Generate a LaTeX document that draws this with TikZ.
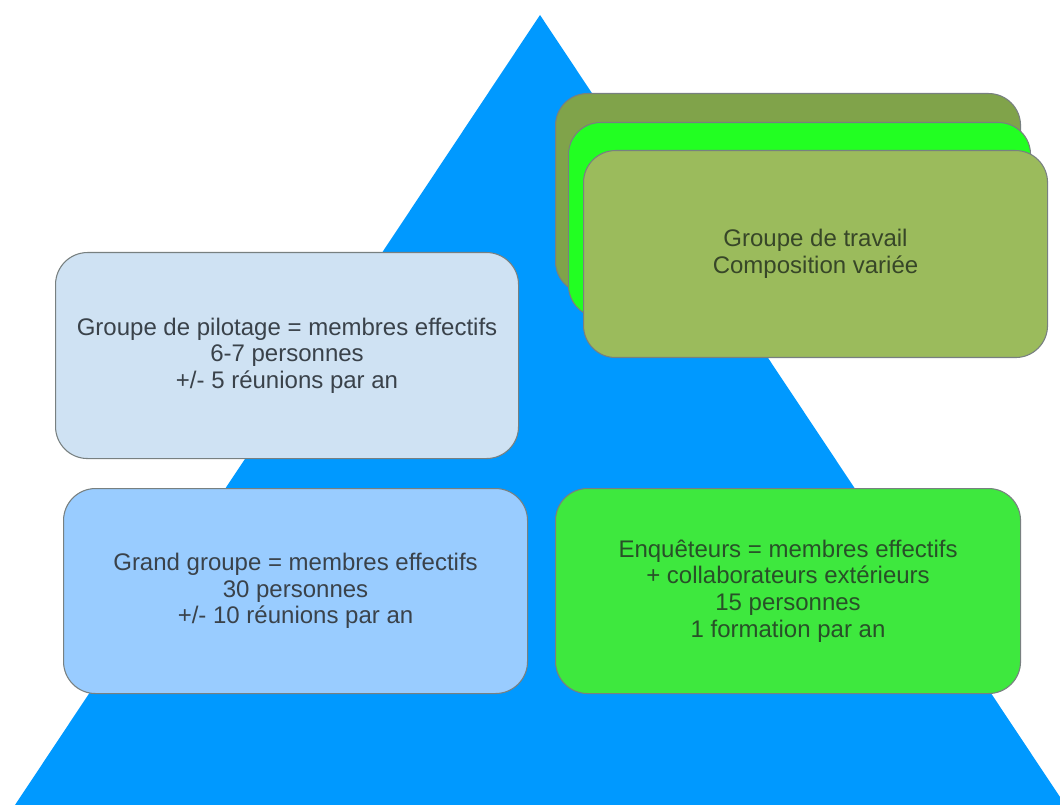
\documentclass[tikz,border=0pt]{standalone}
\usepackage{fontspec}
\setmainfont{Liberation Sans}
\definecolor{tri}{RGB}{0,153,255}
\definecolor{pilotfill}{RGB}{207,226,243}
\definecolor{grandfill}{RGB}{153,204,255}
\definecolor{enqfill}{RGB}{62,232,62}
\definecolor{travfront}{RGB}{155,187,92}
\definecolor{travmid}{RGB}{34,255,34}
\definecolor{travback}{RGB}{128,163,74}
\definecolor{boxline}{RGB}{120,128,128}
\definecolor{bluetext}{RGB}{58,66,74}
\definecolor{greentext}{RGB}{40,80,40}
\definecolor{olivetext}{RGB}{55,70,40}
\begin{document}
\begin{tikzpicture}[x=0.75pt,y=-0.75pt,
  box/.style={draw=boxline, line width=0.8pt, rounded corners=24pt, align=center,
    anchor=north west, inner sep=0pt,
    font=\fontsize{18}{20}\selectfont}]
\useasboundingbox (0,0) rectangle (1060,805);
\fill[white] (0,0) rectangle (1060,805);
% pyramid
\fill[tri] (15,805) -- (540,15) -- (1060,797) -- (1060,805) -- cycle;
% groupe de travail stack
\node[box, fill=travback, minimum width={465*0.75pt}, minimum height={200*0.75pt}] (back) at (555,93) {};
\node[box, fill=travmid, minimum width={462*0.75pt}, minimum height={195*0.75pt}] (mid) at (568,122) {};
\node[box, fill=travfront, text=olivetext, minimum width={464*0.75pt}, minimum height={207*0.75pt}] (travail) at (583,150) {Groupe de travail\\Composition variée};
% pilotage
\node[box, fill=pilotfill, text=bluetext, minimum width={463*0.75pt}, minimum height={206*0.75pt}] (pilot) at (55,252) {Groupe de pilotage = membres effectifs\\6-7 personnes\\+/- 5 réunions par an};
% grand groupe
\node[box, fill=grandfill, text=bluetext, minimum width={464*0.75pt}, minimum height={205*0.75pt}] (grand) at (63,488) {Grand groupe = membres effectifs\\30 personnes\\+/- 10 réunions par an};
% enqueteurs
\node[box, fill=enqfill, text=greentext, minimum width={465*0.75pt}, minimum height={205*0.75pt}] (enq) at (555,488) {Enquêteurs = membres effectifs\\+ collaborateurs extérieurs\\15 personnes\\1 formation par an};
\end{tikzpicture}
\end{document}
